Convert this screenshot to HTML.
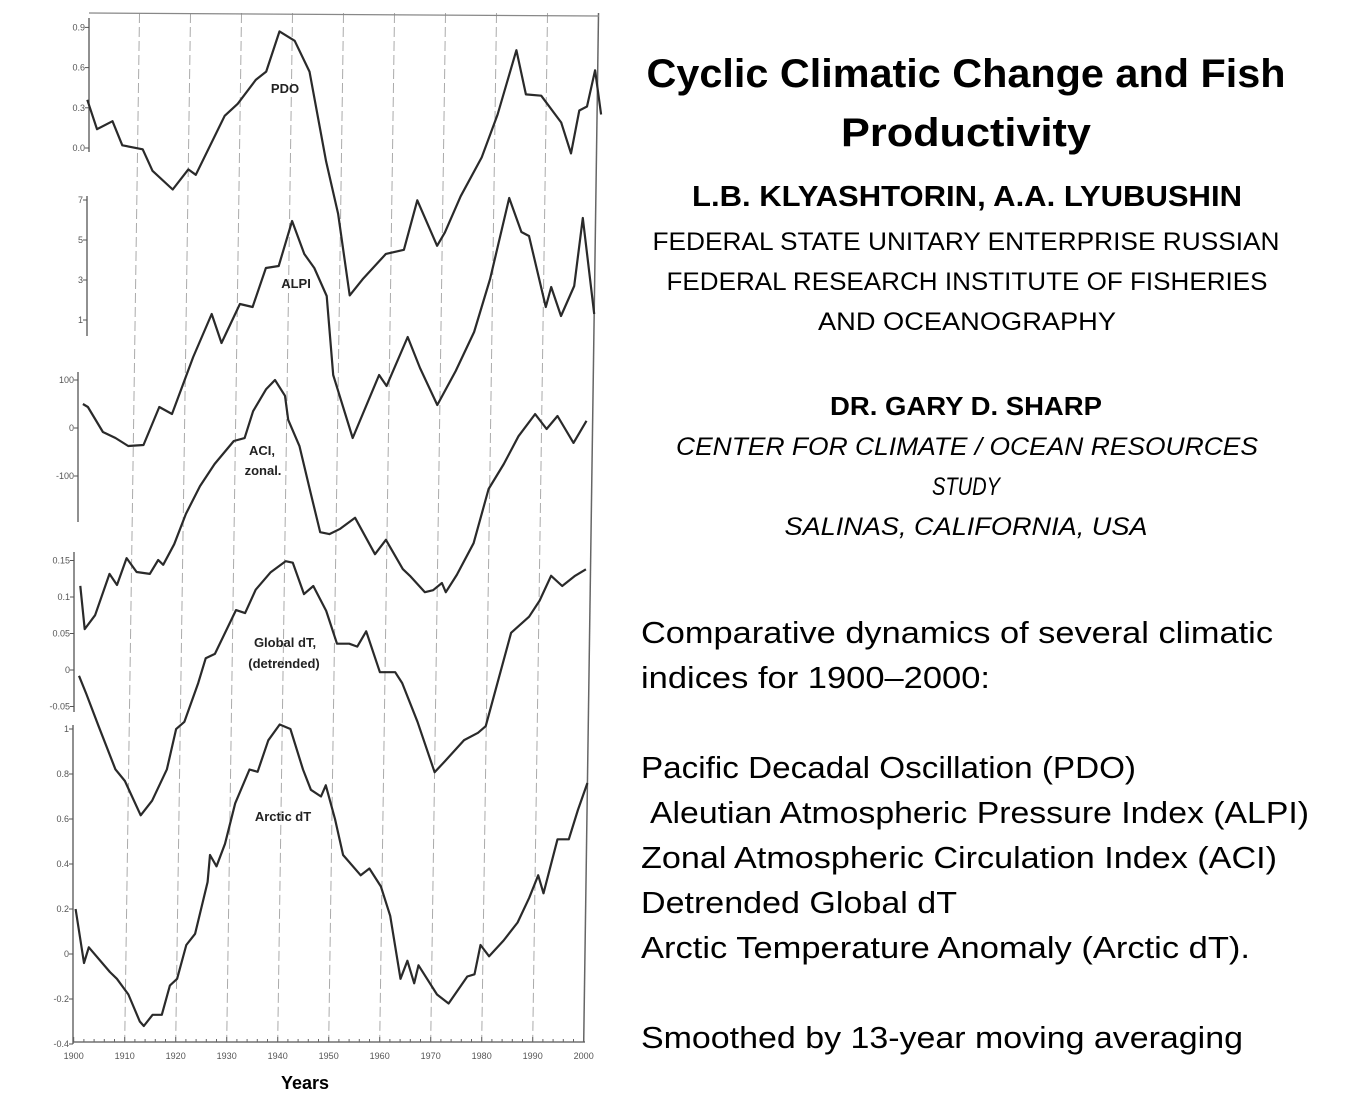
<!DOCTYPE html>
<html><head><meta charset="utf-8"><style>
html,body{margin:0;padding:0;background:#fff;width:1355px;height:1116px;overflow:hidden}
svg{display:block}
.t{font-family:"Liberation Sans",sans-serif;fill:#000}
.tk{font-family:"Liberation Sans",sans-serif;fill:#555;font-size:9px}
.lb{font-family:"Liberation Sans",sans-serif;fill:#222;font-size:13px;font-weight:bold}
</style></head><body>
<svg id="s" width="1355" height="1116" viewBox="0 0 1355 1116">
<g id="chart">
  <g id="grid"></g>
  <g id="axes"></g>
  <g id="xaxis"></g>
  <g id="series"></g>
  <text class="lb" x="285" y="93" text-anchor="middle">PDO</text>
  <text class="lb" x="296" y="288" text-anchor="middle">ALPI</text>
  <text class="lb" x="262" y="455" text-anchor="middle">ACI,</text>
  <text class="lb" x="263" y="475" text-anchor="middle">zonal.</text>
  <text class="lb" x="285" y="647" text-anchor="middle">Global dT,</text>
  <text class="lb" x="284" y="668" text-anchor="middle">(detrended)</text>
  <text class="lb" x="283" y="821" text-anchor="middle">Arctic dT</text>
  <text class="t" x="305" y="1089" text-anchor="middle" font-size="18" font-weight="bold" fill="#222">Years</text>
</g>
<g>
  <text class="t" x="966" y="87" text-anchor="middle" font-size="40" font-weight="bold" textLength="639" lengthAdjust="spacingAndGlyphs">Cyclic Climatic Change and Fish</text>
  <text class="t" x="966" y="146" text-anchor="middle" font-size="40" font-weight="bold" textLength="250" lengthAdjust="spacingAndGlyphs">Productivity</text>
  <text class="t" x="967" y="206" text-anchor="middle" font-size="29" font-weight="bold" textLength="550" lengthAdjust="spacingAndGlyphs">L.B. KLYASHTORIN, A.A. LYUBUSHIN</text>
  <text class="t" x="966" y="250" text-anchor="middle" font-size="25" textLength="627" lengthAdjust="spacingAndGlyphs">FEDERAL STATE UNITARY ENTERPRISE RUSSIAN</text>
  <text class="t" x="967" y="290" text-anchor="middle" font-size="25" textLength="601" lengthAdjust="spacingAndGlyphs">FEDERAL RESEARCH INSTITUTE OF FISHERIES</text>
  <text class="t" x="967" y="330" text-anchor="middle" font-size="25" textLength="298" lengthAdjust="spacingAndGlyphs">AND OCEANOGRAPHY</text>
  <text class="t" x="966" y="415" text-anchor="middle" font-size="26" font-weight="bold" textLength="272" lengthAdjust="spacingAndGlyphs">DR. GARY D. SHARP</text>
  <text class="t" x="967" y="455" text-anchor="middle" font-size="25" font-style="italic" textLength="582" lengthAdjust="spacingAndGlyphs">CENTER FOR CLIMATE / OCEAN RESOURCES</text>
  <text class="t" x="966" y="495" text-anchor="middle" font-size="25" font-style="italic" textLength="68" lengthAdjust="spacingAndGlyphs">STUDY</text>
  <text class="t" x="966" y="535" text-anchor="middle" font-size="25" font-style="italic" textLength="363" lengthAdjust="spacingAndGlyphs">SALINAS, CALIFORNIA,  USA</text>
</g>
<g font-size="31">
  <text class="t" x="641" y="643" textLength="632" lengthAdjust="spacingAndGlyphs">Comparative dynamics of several climatic</text>
  <text class="t" x="641" y="688" textLength="349" lengthAdjust="spacingAndGlyphs">indices for 1900–2000:</text>
  <text class="t" x="641" y="778" textLength="495" lengthAdjust="spacingAndGlyphs">Pacific Decadal Oscillation (PDO)</text>
  <text class="t" x="650" y="823" textLength="659" lengthAdjust="spacingAndGlyphs">Aleutian Atmospheric Pressure Index (ALPI)</text>
  <text class="t" x="641" y="868" textLength="636" lengthAdjust="spacingAndGlyphs">Zonal Atmospheric Circulation Index (ACI)</text>
  <text class="t" x="641" y="913" textLength="316" lengthAdjust="spacingAndGlyphs">Detrended Global dT</text>
  <text class="t" x="641" y="958" textLength="609" lengthAdjust="spacingAndGlyphs">Arctic Temperature Anomaly (Arctic dT).</text>
  <text class="t" x="641" y="1048" textLength="602" lengthAdjust="spacingAndGlyphs">Smoothed by 13-year moving averaging</text>
</g>
</svg>
<script>
const NS="http://www.w3.org/2000/svg";
// ---- data ----
const xTickLabels=["1900","1910","1920","1930","1940","1950","1960","1970","1980","1990","2000"];
const pdoYears=[1900,1902,1905,1907,1911,1913,1917,1920,1921.5,1927,1929.5,1933,1935,1937.5,1940.5,1943.5,1947,1949.5,1952,1954.5,1959,1962.5,1965,1969,1970.5,1973.5,1977.5,1980.5,1984,1986,1989,1993,1995,1996.5,1998,1999.5,2000.8];
const pdoValues=[0.36,0.14,0.20,0.02,-0.01,-0.17,-0.31,-0.16,-0.20,0.24,0.33,0.51,0.57,0.87,0.80,0.57,-0.10,-0.49,-1.10,-0.98,-0.79,-0.76,-0.39,-0.73,-0.63,-0.36,-0.07,0.25,0.73,0.40,0.39,0.19,-0.04,0.28,0.31,0.58,0.25];
const alpiYears=[1900,1901,1904,1906.5,1909,1912,1915,1917.5,1921.5,1925,1927,1930.5,1933,1935.5,1938,1940.5,1943,1945,1947.5,1949,1953,1958,1959.5,1963.5,1966,1969.5,1973,1976.5,1979.5,1983,1985.5,1987,1990.5,1991.5,1993.5,1996,1997.5,2000];
const alpiValues=[-3.2,-3.35,-4.6,-4.9,-5.3,-5.25,-3.35,-3.7,-0.85,1.3,-0.15,1.8,1.65,3.6,3.7,5.95,4.3,3.6,2.2,-1.75,-4.9,-1.75,-2.3,0.15,-1.4,-3.25,-1.55,0.4,3.05,7.1,5.4,5.2,1.65,2.65,1.2,2.7,6.1,1.3];
const aciYears=[1900,1901,1903,1905.7,1907.2,1909,1911,1913.6,1915.2,1916.2,1918.3,1920.5,1923.2,1926,1929.7,1931.8,1933.4,1935.9,1937.6,1939.6,1940.3,1942.6,1944.9,1946.9,1948.7,1950.8,1953.7,1957.7,1959.8,1963.2,1964.6,1967.6,1969.2,1970.9,1971.7,1973.8,1977,1979.8,1982.7,1985.5,1988.7,1991,1993.1,1996.3,1998.8];
const aciValues=[-329,-419,-390,-304,-327,-271,-300,-304,-275,-285,-242,-179,-121,-75,-27,-21,35,81,100,67,17,-38,-135,-217,-221,-210,-187,-263,-233,-294,-308,-342,-338,-323,-342,-306,-240,-127,-75,-17,29,-2,25,-31,15];
const globalYears=[1900,1901.5,1904,1907.4,1909.3,1912.5,1914.7,1917.5,1919.2,1920.8,1923.4,1924.8,1926.6,1930.6,1932.4,1934.4,1937.3,1940.2,1941.6,1943.9,1945.7,1948.3,1950.5,1952.9,1954.5,1956.2,1959,1962,1963.4,1966.5,1970,1972,1975.7,1978.4,1979.9,1984.6,1988.1,1990.1,1992.3,1994.5,1997,1999.1];
const globalValues=[-0.008,-0.033,-0.077,-0.136,-0.152,-0.199,-0.179,-0.136,-0.081,-0.071,-0.018,0.016,0.022,0.082,0.078,0.110,0.134,0.149,0.147,0.104,0.115,0.081,0.036,0.036,0.032,0.053,-0.003,-0.003,-0.018,-0.071,-0.140,-0.125,-0.096,-0.086,-0.077,0.051,0.073,0.095,0.129,0.115,0.129,0.138];
const arcticYears=[1900,1901.8,1902.7,1906.9,1908.3,1910.6,1912.9,1913.7,1915.4,1917.2,1918.7,1920.1,1921.8,1923.5,1925.8,1926.2,1927.5,1929.1,1931,1933.7,1935.3,1937.3,1939.5,1941.6,1944.2,1945.8,1947.8,1948.7,1950.6,1952.3,1955.8,1957.5,1959.8,1961.7,1963.9,1965.2,1966.6,1967.4,1971.1,1973.4,1977,1978.4,1979.5,1981.2,1984,1986.7,1988.9,1990.6,1991.7,1994.3,1996.5,1998.2,2000];
const arcticValues=[0.20,-0.04,0.03,-0.08,-0.11,-0.18,-0.30,-0.32,-0.27,-0.27,-0.14,-0.11,0.04,0.09,0.32,0.44,0.39,0.49,0.67,0.82,0.81,0.95,1.02,1.00,0.82,0.73,0.70,0.75,0.60,0.44,0.35,0.38,0.30,0.17,-0.11,-0.03,-0.13,-0.05,-0.18,-0.22,-0.10,-0.09,0.04,-0.01,0.06,0.14,0.25,0.35,0.27,0.51,0.51,0.64,0.76];
const pdoTicks=["0.9","0.6","0.3","0.0"];
const alpiTicks=["7","5","3","1"];
const aciTicks=["100","0","-100"];
const globalTicks=["0.15","0.1","0.05","0","-0.05"];
const arcticTicks=["1","0.8","0.6","0.4","0.2","0","-0.2","-0.4"];

// ---- scales ----
const SK=0.0144, YB=1042;
function xYear(yr,py){return 73.7+(yr-1900)*5.1+SK*(YB-py);}
const yPdo=v=>148-134*v;
const yAlpi=v=>340-20*v;
const yAci=v=>428-0.48*v;
const yGlobal=v=>670-730*v;
const yArctic=v=>954-225*v;

const grid=document.getElementById('grid');
for(let i=1;i<xTickLabels.length;i++){
  const yr=+xTickLabels[i];
  const l=document.createElementNS(NS,'line');
  l.setAttribute('x1',xYear(yr,13));l.setAttribute('y1',13);
  l.setAttribute('x2',xYear(yr,YB));l.setAttribute('y2',YB);
  l.setAttribute('stroke',i===xTickLabels.length-1?'#666':'#aaa');
  l.setAttribute('stroke-width',i===xTickLabels.length-1?1.5:1);
  if(i<xTickLabels.length-1)l.setAttribute('stroke-dasharray','10 4');
  
  
  grid.appendChild(l);
}
const topBorder=document.createElementNS(NS,'line');
topBorder.setAttribute('x1',89);topBorder.setAttribute('y1',13);topBorder.setAttribute('x2',599);topBorder.setAttribute('y2',16);
topBorder.setAttribute('stroke','#888');topBorder.setAttribute('stroke-width',1.2);


grid.appendChild(topBorder);

const axes=document.getElementById('axes');
function yAxis(name,x,y1,y2,ticks,vals,scale){
  const g=document.createElementNS(NS,'g');
  
  
  const l=document.createElementNS(NS,'line');
  l.setAttribute('x1',x);l.setAttribute('x2',x);l.setAttribute('y1',y1);l.setAttribute('y2',y2);
  l.setAttribute('stroke','#555');l.setAttribute('stroke-width',1.3);
  g.appendChild(l);
  ticks.forEach((t,i)=>{
    const y=scale(vals[i]);
    const tk=document.createElementNS(NS,'line');
    tk.setAttribute('x1',x-4);tk.setAttribute('x2',x);tk.setAttribute('y1',y);tk.setAttribute('y2',y);
    tk.setAttribute('stroke','#555');g.appendChild(tk);
    const tx=document.createElementNS(NS,'text');
    tx.setAttribute('class','tk');tx.setAttribute('x',x-4);tx.setAttribute('y',y+3);
    tx.setAttribute('text-anchor','end');tx.textContent=t;
    
    
    g.appendChild(tx);
  });
  axes.appendChild(g);
}
yAxis('pdo',89,18,152,pdoTicks,pdoTicks.map(Number),yPdo);
yAxis('alpi',87,196,336,alpiTicks,alpiTicks.map(Number),yAlpi);
yAxis('aci',78,372,522,aciTicks,aciTicks.map(Number),yAci);
yAxis('global',74,552,712,globalTicks,globalTicks.map(Number),yGlobal);
yAxis('arctic',73,725,1044,arcticTicks,arcticTicks.map(Number),yArctic);

const xa=document.getElementById('xaxis');
const xl=document.createElementNS(NS,'line');
xl.setAttribute('x1',73);xl.setAttribute('x2',585);xl.setAttribute('y1',YB);xl.setAttribute('y2',YB);
xl.setAttribute('stroke','#555');xl.setAttribute('stroke-width',1.3);


xa.appendChild(xl);
for(let yr=1900;yr<=2000;yr+=2){
  const tk=document.createElementNS(NS,'line');
  const x=xYear(yr,YB);
  tk.setAttribute('x1',x);tk.setAttribute('x2',x);tk.setAttribute('y1',YB-(yr%10===0?5:3));tk.setAttribute('y2',YB);
  tk.setAttribute('stroke','#666');xa.appendChild(tk);
}
xTickLabels.forEach(t=>{
  const tx=document.createElementNS(NS,'text');
  tx.setAttribute('class','tk');tx.setAttribute('font-size','10');
  tx.setAttribute('x',xYear(+t,YB));tx.setAttribute('y',1059);
  tx.setAttribute('text-anchor','middle');tx.textContent=t;
  
  
  xa.appendChild(tx);
});

const ser=document.getElementById('series');
function line(name,years,vals,scale){
  let d='';
  years.forEach((yr,i)=>{const py=scale(vals[i]);d+=(i?'L':'M')+xYear(yr,py).toFixed(1)+','+py.toFixed(1);});
  const p=document.createElementNS(NS,'path');
  p.setAttribute('d',d);p.setAttribute('fill','none');p.setAttribute('stroke','#2a2a2a');
  p.setAttribute('stroke-width','2.2');p.setAttribute('stroke-linejoin','round');
  
  
  ser.appendChild(p);
}
line('pdo-line',pdoYears,pdoValues,yPdo);
line('alpi-line',alpiYears,alpiValues,yAlpi);
line('aci-line',aciYears,aciValues,yAci);
line('global-dt-line',globalYears,globalValues,yGlobal);
line('arctic-dt-line',arcticYears,arcticValues,yArctic);
</script>
</body></html>
